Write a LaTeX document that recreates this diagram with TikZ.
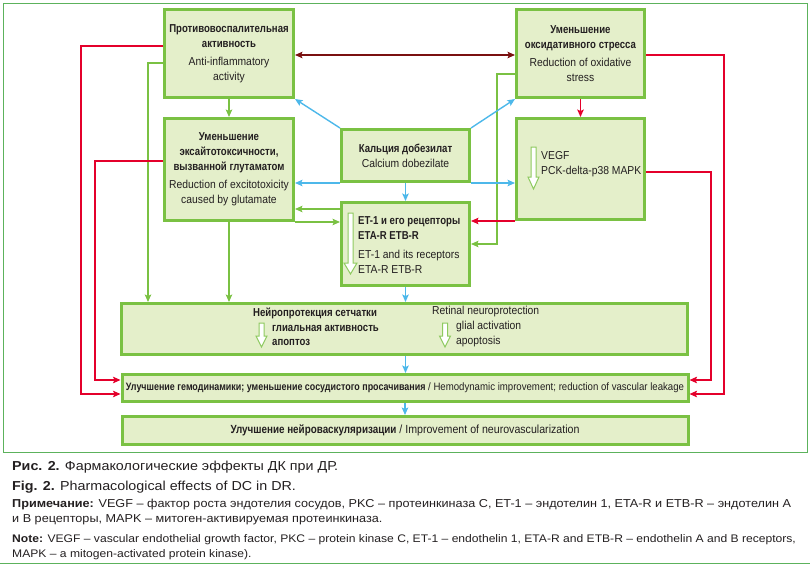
\documentclass[tikz,border=0pt]{standalone}
\usepackage{fontspec}
\setmainfont{Liberation Sans}
\newfontfamily\condfont{Liberation Sans}[UprightFeatures={FakeStretch=0.9}, BoldFeatures={FakeStretch=0.835}]
\newfontfamily\widefont{Liberation Sans}[FakeStretch=1.1]
\usepackage{tikz}
\usetikzlibrary{arrows.meta,calc}

\definecolor{boxgreen}{RGB}{122,193,67}
\definecolor{boxfill}{RGB}{228,239,202}
\definecolor{framegreen}{RGB}{92,178,92}
\definecolor{linkred}{RGB}{228,0,43}
\definecolor{linkdark}{RGB}{122,16,16}
\definecolor{linkblue}{RGB}{77,184,234}
\definecolor{txt}{RGB}{35,31,32}

% hollow down arrow: x, top, head top, tip, half head width
\newcommand{\hollowdown}[5]{%
  \draw[hollow] ({#1-2.5},#2) -- ({#1+2.5},#2) -- ({#1+2.5},#3) -- ({#1+#5},#3)
    -- (#1,#4) -- ({#1-#5},#3) -- ({#1-2.5},#3) -- cycle;}

\begin{document}
\begin{tikzpicture}[
  x=1pt, y=-1pt,
  box/.style={
    draw=boxgreen, fill=boxfill, line width=3pt, inner sep=0pt,
    align=center, text=txt, font=\condfont\fontsize{11.5}{15}\selectfont
  },
  wide/.style={box, minimum width=566pt},
  lbl/.style={anchor=west, inner sep=0pt, align=left, text=txt,
    font=\condfont\fontsize{11.5}{15}\selectfont},
  captext/.style={anchor=west, inner sep=0pt, align=left, text=txt},
  hollow/.style={draw=boxgreen!85, fill=white, line width=1pt},
  arrtip/.style={-{Stealth[length=7.5pt,width=6.5pt,inset=1.5pt]}},
  garr/.style={arrtip, boxgreen, line width=1.8pt},
  rarr/.style={arrtip, linkred, line width=1.8pt},
  barr/.style={arrtip, linkblue, line width=1.4pt},
  darr/.style={{Stealth[length=7.5pt,width=6.5pt,inset=1.5pt]}-{Stealth[length=7.5pt,width=6.5pt,inset=1.5pt]},
    linkdark, line width=1.8pt}
]
  \useasboundingbox (0,0) rectangle (810,565);

  % Frame
  \draw[framegreen, line width=1pt] (3,3) rectangle (807,452);
  \draw[framegreen, line width=1pt] (0,563) -- (810,563);

  % Top row
  \node[box, minimum width=129pt, minimum height=88pt] (anti) at (229,53.5)
    {\textbf{Противовоспалительная}\\\textbf{активность}\\[3pt]Anti-inflammatory\\activity};
  \node[box, minimum width=128pt, minimum height=88pt] (oxid) at (580.5,53.5)
    {\textbf{Уменьшение}\\\textbf{оксидативного стресса}\\[3pt]Reduction of oxidative\\stress};

  % Middle row
  \node[box, minimum width=129pt, minimum height=102pt] (excit) at (229,169.5)
    {\textbf{Уменьшение}\\\textbf{эксайтотоксичности,}\\\textbf{вызванной глутаматом}\\[3pt]Reduction of excitotoxicity\\caused by glutamate};
  \node[box, minimum width=128pt, minimum height=52pt] (calc) at (405.5,155.5)
    {\textbf{Кальция добезилат}\\Calcium dobezilate};
  \node[box, minimum width=128pt, minimum height=101pt] (vegf) at (580.5,169) {};
  \node[box, minimum width=128pt, minimum height=83pt] (et) at (405.5,244) {};

  \hollowdown{533.5}{147}{177}{189}{5.5}
  \node[lbl] (vegft) at (541,164.5) {VEGF\\PCK-delta-p38 MAPK};
  \hollowdown{350.5}{213}{263}{274}{6.5}
  \node[lbl] (ett) at (358,245)
    {\textbf{ET-1 и его рецепторы}\\\textbf{ETA-R ETB-R}\\[4pt]ET-1 and its receptors\\ETA-R ETB-R};

  % Bottom rows
  \node[wide, minimum height=51pt] (neuro) at (404.5,329) {};
  \node[lbl] (npru) at (253,313) {\textbf{Нейропротекция сетчатки}};
  \hollowdown{261.5}{323}{336}{347}{5.5}
  \node[lbl, font=\condfont\fontsize{11.5}{14}\selectfont] (npru2) at (272,335)
    {\textbf{глиальная активность}\\\textbf{апоптоз}};
  \node[lbl] (npen) at (432,312) {Retinal neuroprotection};
  \hollowdown{445}{323}{336}{347}{5.5}
  \node[lbl] (npen2) at (456,334.5) {glial activation\\apoptosis};

  \node[wide, minimum height=27pt, font=\condfont\fontsize{10.7}{12}\selectfont] (hemo) at (405,388)
    {\textbf{Улучшение гемодинамики; уменьшение сосудистого просачивания} / Hemodynamic improvement; reduction of vascular leakage};
  \node[wide, minimum height=28pt, font=\condfont\fontsize{11.8}{13}\selectfont] (nvasc) at (405,430.5)
    {\textbf{Улучшение нейроваскуляризации} / Improvement of neurovascularization};

  % Connectors
  \draw[darr] ([yshift=-1.5pt]anti.east) -- ([yshift=-1.5pt]oxid.west);
  \draw[garr] (anti) -- (excit);
  \draw[garr] ([yshift=-9.5pt]anti.west) -- ++(-15,0) coordinate (g1) -- (g1 |- neuro.north);
  \draw[garr] (excit.south) -- (excit.south |- neuro.north);
  \draw[garr] ([yshift=35pt]et.west) -- ([yshift=35pt]et.west -| excit.east);
  \draw[garr] (excit.south east) -- (excit.south east -| et.west);
  \draw[garr] ([yshift=-20.5pt]oxid.west) -- ++(-18,0) |- (et.east);
  \draw[rarr] (oxid) -- (vegf);
  \draw[rarr] (vegf.south west) -- (vegf.south west -| et.east);
  \draw[rarr] ([yshift=7.5pt]anti.west) -- ++(-82,0) |- ([yshift=-6pt]hemo.west);
  \draw[rarr] ([yshift=8.5pt]excit.west) -- ++(-68,0) |- ([yshift=8pt]hemo.west);
  \draw[rarr] ([yshift=-1.5pt]oxid.east) -- ++(78,0) |- ([yshift=-6pt]hemo.east);
  \draw[rarr] ([yshift=-3pt]vegf.east) -- ++(65,0) |- ([yshift=8pt]hemo.east);
  \draw[barr] (calc.north west) -- (anti.south east);
  \draw[barr] (calc.north east) -- (oxid.south west);
  \draw[barr] (calc.south west) -- (calc.south west -| excit.east);
  \draw[barr] (calc.south east) -- (calc.south east -| vegf.west);
  \draw[barr] (calc) -- (et);
  \draw[barr] (et.south) -- (et.south |- neuro.north);
  \draw[barr] (et.south |- neuro.south) -- (et.south |- hemo.north);
  \draw[barr] (hemo) -- (nvasc);

  % Caption
  \node[captext, font=\widefont\fontsize{13}{14}\selectfont] (fig1) at (12,467)
    {\textbf{Рис. 2.} Фармакологические эффекты ДК при ДР.};
  \node[captext, font=\widefont\fontsize{13}{14}\selectfont] (fig2) at (12,487)
    {\textbf{Fig. 2.} Pharmacological effects of DC in DR.};
  \node[captext, font=\widefont\fontsize{11.5}{15}\selectfont] (noteru) at (12,512.5)
    {\textbf{Примечание:} VEGF – фактор роста эндотелия сосудов, PKC – протеинкиназа C, ET-1 – эндотелин 1, ETA-R и ETB-R – эндотелин A\\и B рецепторы, MAPK – митоген-активируемая протеинкиназа.};
  \node[captext, font=\widefont\fontsize{11}{15}\selectfont] (noteen) at (12,547)
    {\textbf{Note:} VEGF – vascular endothelial growth factor, PKC – protein kinase C, ET-1 – endothelin 1, ETA-R and ETB-R – endothelin A and B receptors,\\MAPK – a mitogen-activated protein kinase).};
\end{tikzpicture}
\end{document}
